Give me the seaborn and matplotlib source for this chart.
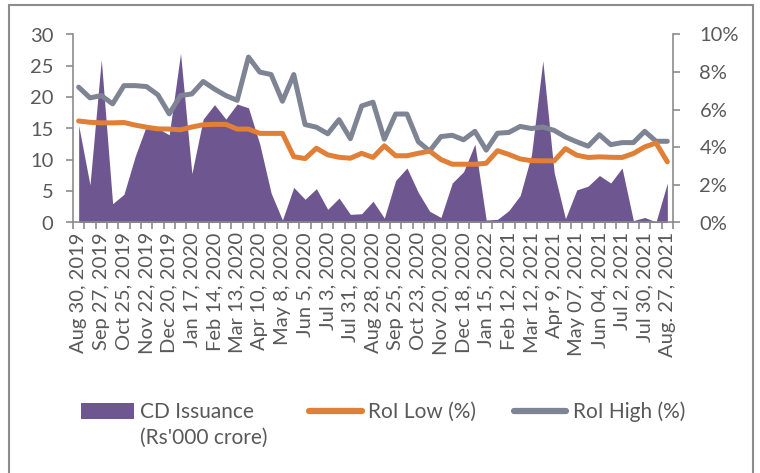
import numpy as np
import pandas as pd
import matplotlib
matplotlib.use("Agg")
import matplotlib.pyplot as plt
import seaborn as sns
from matplotlib.patches import Patch, Rectangle
from matplotlib.lines import Line2D

# fortnightly observations, every second one labelled on the axis
tick_labels = [
    "Aug 30, 2019", "Sep 27, 2019", "Oct 25, 2019", "Nov 22, 2019",
    "Dec 20, 2019", "Jan 17, 2020", "Feb 14, 2020", "Mar 13, 2020",
    "Apr 10, 2020", "May 8, 2020", "Jun 5, 2020", "Jul 3, 2020",
    "Jul 31, 2020", "Aug 28, 2020", "Sep 25, 2020", "Oct 23, 2020",
    "Nov 20, 2020", "Dec 18, 2020", "Jan 15, 2022", "Feb 12, 2021",
    "Mar 12, 2021", "Apr 9, 2021", "May 07, 2021", "Jun 04, 2021",
    "Jul 2, 2021", "Jul 30, 2021", "Aug. 27, 2021",
]

# CD issuance (Rs'000 crore)
cd_issuance = [
    15.5, 6.0, 26.0, 3.0, 4.5, 10.6, 15.5, 15.0, 14.0, 27.0,
    7.8, 16.5, 18.8, 16.5, 18.9, 18.3, 12.5, 4.7, 0.4, 5.6,
    3.7, 5.4, 2.1, 3.9, 1.3, 1.4, 3.4, 0.7, 6.7, 8.7,
    4.8, 1.8, 0.8, 6.3, 8.1, 12.5, 0.4, 0.5, 1.9, 4.3,
    10.8, 25.8, 8.0, 0.6, 5.2, 5.8, 7.5, 6.3, 8.7, 0.3,
    0.8, 0.1, 6.3,
]

# rate of interest, %
roi_low = [
    5.40, 5.33, 5.30, 5.30, 5.32, 5.18, 5.07, 4.98, 4.97, 4.93,
    5.08, 5.20, 5.22, 5.22, 4.97, 4.97, 4.74, 4.74, 4.74, 3.50,
    3.40, 3.95, 3.60, 3.47, 3.42, 3.68, 3.46, 4.08, 3.55, 3.55,
    3.68, 3.80, 3.35, 3.10, 3.10, 3.10, 3.15, 3.82, 3.62, 3.38,
    3.29, 3.28, 3.28, 3.93, 3.58, 3.46, 3.49, 3.47, 3.46, 3.67,
    4.02, 4.23, 3.23,
]
roi_high = [
    7.20, 6.63, 6.75, 6.31, 7.28, 7.28, 7.23, 6.79, 5.78, 6.75,
    6.84, 7.50, 7.10, 6.75, 6.50, 8.80, 8.00, 7.87, 6.45, 7.87,
    5.21, 5.07, 4.72, 5.47, 4.46, 6.20, 6.40, 4.43, 5.77, 5.77,
    4.30, 3.80, 4.57, 4.64, 4.40, 4.85, 3.85, 4.75, 4.79, 5.11,
    5.00, 5.08, 4.90, 4.55, 4.29, 4.06, 4.67, 4.14, 4.25, 4.25,
    4.85, 4.32, 4.32,
]

PURPLE = "#6E5690"
ORANGE = "#E07F35"
GREY = "#7F8494"
AXIS_COL = "#8C8C8C"
TEXT_COL = "#595959"
FS = 14.5

df = pd.DataFrame({
    "pos": np.arange(len(cd_issuance)),
    "cd": cd_issuance,
    "low": roi_low,
    "high": roi_high,
})

sns.set_style("white")
plt.rcParams["font.family"] = ["Lato", "DejaVu Sans"]

W, H = 760, 473
fig = plt.figure(figsize=(W / 100, H / 100), dpi=100)
ax = fig.add_axes([73 / W, 1 - 222.5 / H, 600 / W, 188 / H])

ax.fill_between(df["pos"], df["cd"], color=PURPLE, linewidth=0)
ax.set_xlim(-0.5, len(df) - 0.5)
ax.set_ylim(0, 30)
ax.set_yticks(np.arange(0, 31, 5))
ax.set_xticks(np.arange(0, len(df), 2))
ax.set_xticklabels(tick_labels, rotation=90, ha="center", va="top")
ax.set_xticks(np.arange(-0.5, len(df), 1), minor=True)

ax2 = ax.twinx()
sns.lineplot(data=df, x="pos", y="high", ax=ax2, color=GREY, linewidth=3.6,
             legend=False)
sns.lineplot(data=df, x="pos", y="low", ax=ax2, color=ORANGE, linewidth=3.6,
             legend=False)
ax2.set_ylim(0, 10)
ax2.set_yticks(np.arange(0, 11, 2))
ax2.set_yticklabels([f"{v}%" for v in range(0, 11, 2)])
ax.set_xlabel("")
ax.set_ylabel("")
ax2.set_xlabel("")
ax2.set_ylabel("")

for a in (ax, ax2):
    for s in a.spines.values():
        s.set_color(AXIS_COL)
        s.set_linewidth(1.2)
    a.spines["top"].set_visible(False)
ax.spines["right"].set_visible(False)
ax2.spines["left"].set_visible(False)
ax2.spines["bottom"].set_visible(False)

ax.tick_params(axis="y", left=True, direction="out", length=5, width=1.2,
               color=AXIS_COL, labelcolor=TEXT_COL, labelsize=FS, pad=9)
ax.tick_params(axis="x", which="major", bottom=True, length=0,
               labelcolor=TEXT_COL, labelsize=FS, pad=7)
ax.tick_params(axis="x", which="minor", bottom=True, direction="out",
               length=5, width=1.2, color=AXIS_COL)
ax2.tick_params(axis="y", right=True, direction="out", length=5, width=1.2,
                color=AXIS_COL, labelcolor=TEXT_COL, labelsize=FS, pad=14)

# legend, laid out like the spreadsheet original
leg_fs = 15
fig.legend(
    handles=[Patch(facecolor=PURPLE, edgecolor="none")],
    labels=["CD Issuance"],
    loc="center left", bbox_to_anchor=(71 / W, 1 - 412 / H),
    frameon=False, fontsize=leg_fs, handlelength=2.5, handleheight=0.8,
    handletextpad=0.3, borderpad=0, labelcolor=TEXT_COL,
)
fig.text(140 / W, 1 - 438 / H, "(Rs'000 crore)", fontsize=leg_fs,
         color=TEXT_COL, ha="left", va="center")
fig.legend(
    handles=[Line2D([], [], color=ORANGE, lw=4.5, solid_capstyle="round"),
             Line2D([], [], color=GREY, lw=4.5, solid_capstyle="round")],
    labels=["RoI Low (%)", "RoI High (%)"],
    loc="center left", bbox_to_anchor=(299 / W, 1 - 412 / H), ncol=2,
    frameon=False, fontsize=leg_fs, handlelength=2.5, handletextpad=0.3,
    columnspacing=1.85, borderpad=0, labelcolor=TEXT_COL,
)

# outer frame of the exhibit
fig.patches.append(Rectangle((9 / W, -0.05), 744 / W, 1.05 - 5 / H,
                             transform=fig.transFigure, fill=False,
                             edgecolor=AXIS_COL, linewidth=1.5))

fig.savefig("out.png", dpi=100)
